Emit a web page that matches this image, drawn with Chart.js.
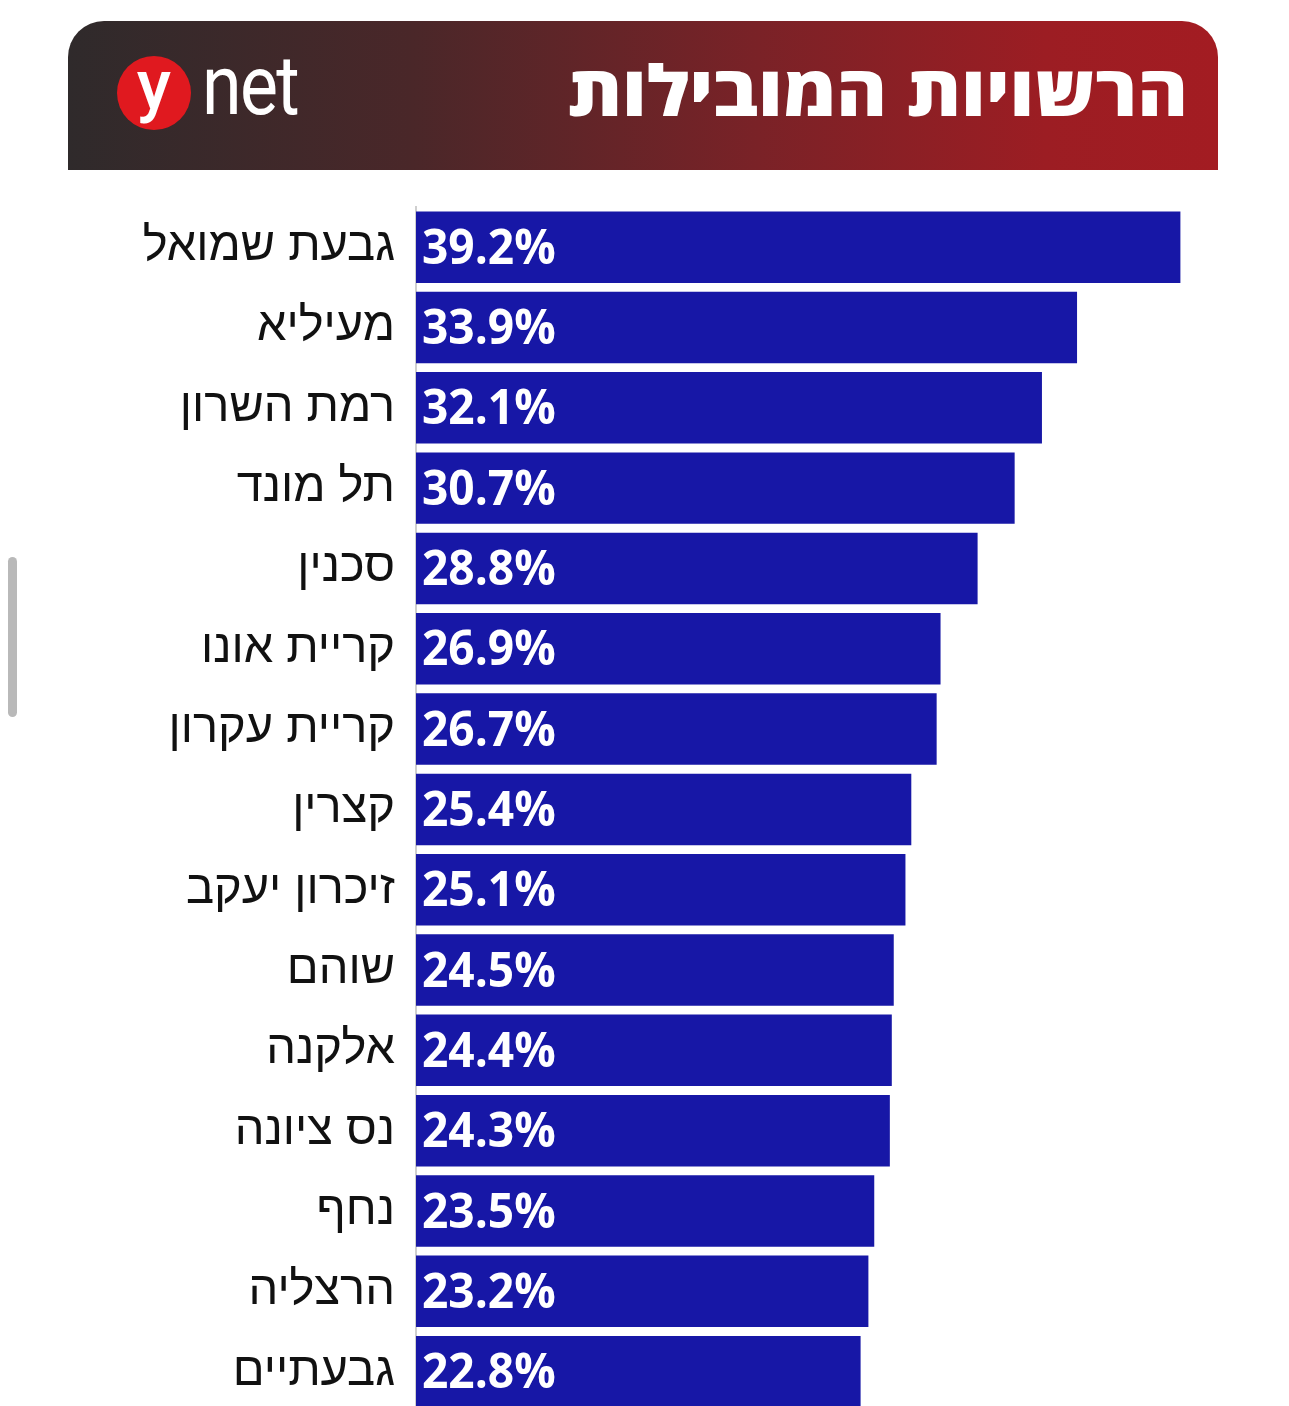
<!DOCTYPE html>
<html lang="he">
<head>
<meta charset="utf-8">
<script src="https://cdn.jsdelivr.net/npm/chart.js@4.4.1/dist/chart.umd.min.js"></script>
<style>
  html, body { margin: 0; padding: 0; background: #fff; overflow: hidden; width: 1289px; height: 1406px; }
  #chart { position: absolute; left: 0; top: 0; }
  .header {
    position: absolute; left: 68px; top: 21px; width: 1150px; height: 149px;
    border-radius: 36px 36px 0 0;
    background: linear-gradient(to right, #2f2a2b 0%, #4a2729 30%, #7a2227 60%, #9c1d23 85%, #a31c22 100%);
    overflow: hidden;
  }
  .title {
    position: absolute; right: 30px; top: 18px;
    font-family: "Open Sans", "DejaVu Sans", sans-serif; font-weight: 800;
    font-size: 70px; line-height: 100px; color: #fff; white-space: nowrap;
    direction: rtl; transform-origin: right center;
  }
  .logo-circle {
    position: absolute; left: 49px; top: 35px; width: 74px; height: 74px;
    border-radius: 50%; background: #e0191f;
  }
  .logo-y {
    position: absolute; left: 0; top: 0; width: 74px; text-align: center;
    font-family: Roboto, sans-serif; font-weight: 500; font-size: 70px; line-height: 58px; color: #fff;
  }
  .logo-net {
    position: absolute; left: 134px; top: 15px;
    font-family: Roboto, sans-serif; font-weight: 400; font-size: 84px; line-height: 100px;
    color: #fff; white-space: nowrap; transform-origin: left center; letter-spacing: -2px;
  }
  .scrollbar {
    position: absolute; left: 8px; top: 557px; width: 9px; height: 160px;
    background: #b9b9b9; border-radius: 5px;
  }
</style>
</head>
<body>
<div class="header">
  <div class="logo-circle"><div class="logo-y">y</div></div>
  <div class="logo-net" id="logoNet">net</div>
  <div class="title" id="title">הרשויות המובילות</div>
</div>
<div class="scrollbar"></div>
<canvas id="chart" width="1289" height="1461"></canvas>
<script>
// ערכי הגרף
const rashuyot = ['גבעת שמואל', 'מעיליא', 'רמת השרון', 'תל מונד', 'סכנין', 'קריית אונו', 'קריית עקרון', 'קצרין', 'זיכרון יעקב', 'שוהם', 'אלקנה', 'נס ציונה', 'נחף', 'הרצליה', 'גבעתיים'];
const achuzim = [39.2, 33.9, 32.1, 30.7, 28.8, 26.9, 26.7, 25.4, 25.1, 24.5, 24.4, 24.3, 23.5, 23.2, 22.8];
const tvachX = [0, 40];

// התאמת רוחב הכותרת והלוגו
function fitWidth(id, target) {
  const el = document.getElementById(id);
  const w = el.getBoundingClientRect().width;
  el.style.transform = 'scaleX(' + (target / w) + ')';
}
fitWidth('title', 620);
fitWidth('logoNet', 96);

// תוויות האחוזים בתוך העמודות
const tviyotPlugin = {
  id: 'tviyot',
  afterDatasetsDraw(chart) {
    const ctx = chart.ctx;
    const meta = chart.getDatasetMeta(0);
    ctx.save();
    ctx.fillStyle = '#ffffff';
    ctx.font = 'bold 48px "Open Sans", "Liberation Sans", sans-serif';
    ctx.textBaseline = 'alphabetic';
    ctx.textAlign = 'left';
    meta.data.forEach((bar, i) => {
      ctx.save();
      ctx.translate(bar.base + 6, bar.y + 16.5);
      ctx.scale(0.96, 1);
      ctx.fillText(achuzim[i].toFixed(1) + '%', 0, 0);
      ctx.restore();
    });
    ctx.restore();
  }
};

new Chart(document.getElementById('chart'), {
  type: 'bar',
  data: {
    labels: rashuyot,
    datasets: [{
      data: achuzim,
      backgroundColor: '#1717a6',
      borderWidth: 0,
      categoryPercentage: 1,
      barPercentage: 0.89
    }]
  },
  options: {
    indexAxis: 'y',
    responsive: false,
    animation: false,
    layout: { padding: { top: 207, right: 93, bottom: 0, left: 0 } },
    plugins: { legend: { display: false }, tooltip: { enabled: false } },
    scales: {
      x: { display: false, min: tvachX[0], max: tvachX[1] },
      y: {
        grid: { display: false, drawTicks: false },
        border: { display: true, color: '#cfcfcf', width: 2 },
        ticks: {
          color: '#111',
          padding: 21,
          font: { family: '"Liberation Sans", "Open Sans", sans-serif', size: 47 }
        },
        afterFit(scale) { scale.width = 416; }
      }
    }
  },
  plugins: [tviyotPlugin]
});
</script>
</body>
</html>
